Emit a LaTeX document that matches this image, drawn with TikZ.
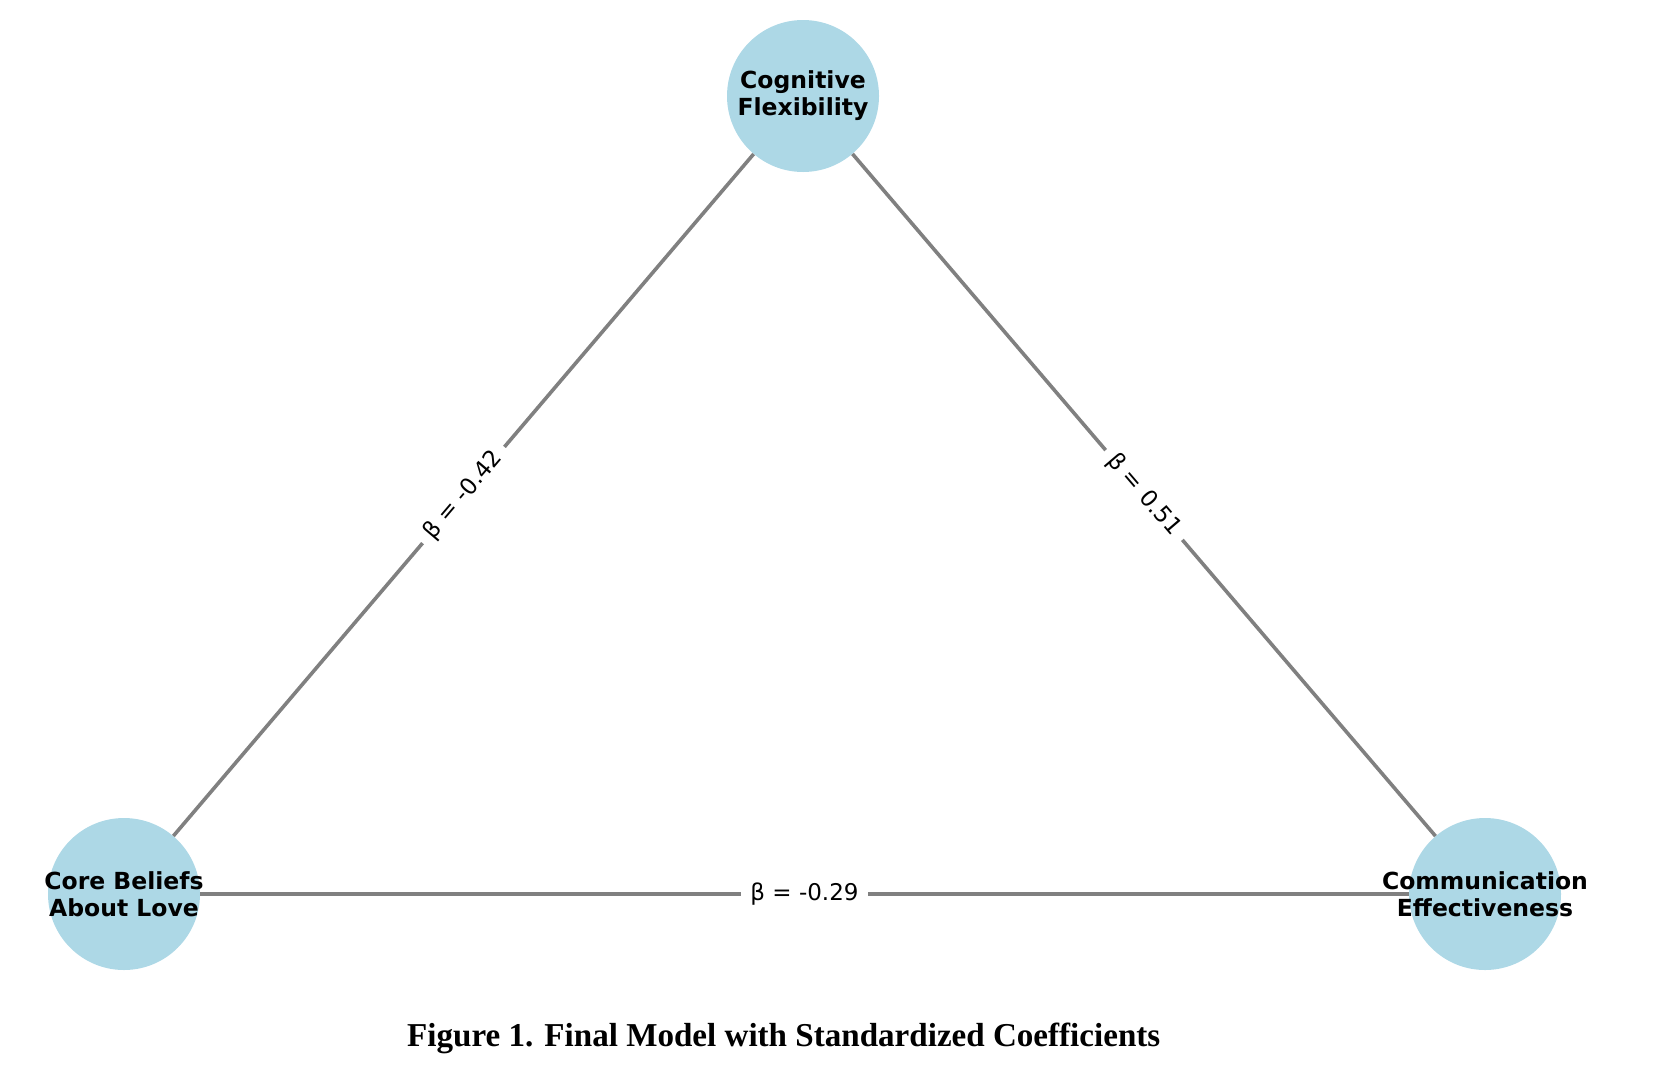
\documentclass[tikz,border=0pt]{standalone}
\usepackage{fontspec}
\usepackage{graphicx}
\newfontfamily\djv{DejaVu Sans}
\newfontfamily\capfont{Liberation Serif}
\definecolor{nodeblue}{HTML}{ADD8E6}
\definecolor{edgegray}{HTML}{808080}
\begin{document}
\begin{tikzpicture}[x=1pt,y=-1pt,
  vertex/.style={circle,fill=nodeblue,draw=none,minimum size=152pt,inner sep=0pt},
  vtext/.style={align=center,font=\djv\bfseries\fontsize{23.5}{27}\selectfont,inner sep=0pt},
  edge/.style={draw=edgegray,line width=3.6pt},
  elabel/.style={fill=white,font=\djv\fontsize{23}{27}\selectfont,inner xsep=9pt,inner ysep=3pt,sloped,midway}]
\useasboundingbox (0,0) rectangle (1672,1077);
\node[vertex] (cf) at (803,96) {};
\node[vertex] (cb) at (124,894) {};
\node[vertex] (ce) at (1485,894) {};
\draw[edge] (cb) -- node[elabel] {β = -0.42} (cf);
\draw[edge] (cf) -- node[elabel] {β = 0.51} (ce);
\draw[edge] (cb) -- node[elabel] {β = -0.29} (ce);
\node[vtext] (cft) at (cf) {Cognitive\\Flexibility};
\node[vtext] (cbt) at (cb) {Core Beliefs\\About Love};
\node[vtext] (cet) at (ce) {Communication\\Effectiveness};
\node[inner sep=0pt,anchor=base west] (cap) at (407,1046) {\resizebox{753pt}{23.5pt}{\capfont\bfseries Figure 1. Final Model with Standardized Coefficients}};
\end{tikzpicture}
\end{document}
